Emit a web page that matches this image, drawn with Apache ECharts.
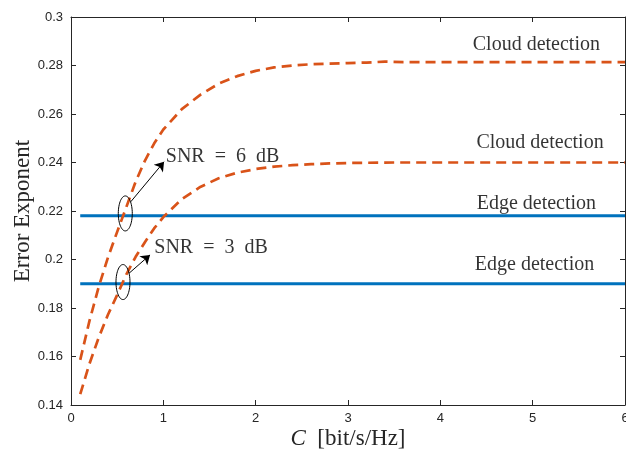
<!DOCTYPE html>
<html>
<head>
<meta charset="utf-8">
<script src="https://cdn.jsdelivr.net/npm/echarts@6/dist/echarts.min.js"></script>
<style>html,body{margin:0;padding:0;background:#fff;}#c{width:626px;height:452px;}</style>
</head>
<body>
<div id="c"></div>
<script>
// ---- data ----
const xCloud6 = [0.1,0.2,0.3,0.4,0.5,0.6,0.7,0.8,0.9,1.0,1.2,1.4,1.6,1.8,2.0,2.2,2.4,2.6,2.8,3.0,3.2,3.4,3.6,4.0,5.0,6.0];
const yCloud6 = [0.1586,0.1747,0.1887,0.2008,0.2114,0.2217,0.2321,0.2407,0.2478,0.2536,0.2620,0.2679,0.2725,0.2756,0.2778,0.2792,0.2800,0.2805,0.2808,0.2810,0.2812,0.2816,0.2814,0.2814,0.2814,0.2814];
const xCloud3 = [0.1,0.2,0.3,0.4,0.5,0.6,0.7,0.8,0.9,1.0,1.2,1.4,1.6,1.8,2.0,2.2,2.4,2.6,2.8,3.0,3.5,4.0,5.0,6.0];
const yCloud3 = [0.1445,0.1570,0.1678,0.1772,0.1854,0.1939,0.2011,0.2071,0.2128,0.2175,0.2249,0.2299,0.2335,0.2358,0.2373,0.2383,0.2389,0.2393,0.2396,0.2398,0.2400,0.2400,0.2400,0.2400];
const xEdge = [0.1, 6.0];
const yEdge6 = [0.218, 0.218];
const yEdge3 = [0.190, 0.190];
const xTicks = [0,1,2,3,4,5,6];
const yTicks = [0.14,0.16,0.18,0.2,0.22,0.24,0.26,0.28,0.3];
const labelTexts = ['Cloud detection','Cloud detection','Edge detection','Edge detection','SNR\u2002=\u20026\u2002dB','SNR\u2002=\u20023\u2002dB'];
const labelX = [5.04, 5.08, 5.04, 5.02, 1.641, 1.517];
const labelY = [0.2885, 0.2480, 0.2228, 0.1978, 0.2423, 0.2050];
const ellipseX = [0.588, 0.563];
const ellipseY = [0.2190, 0.1907];
const arrowStart = [[0.647,0.2238],[0.628,0.1943]];
const arrowEnd = [[1.008,0.2403],[0.856,0.2019]];

const zip = (xs, ys) => xs.map((x,i)=>[x, ys[i]]);
const BLUE = '#0072BD', ORANGE = '#D95319', AX = '#262626';
const SERIF = 'Liberation Serif';

const chart = echarts.init(document.getElementById('c'), null, {renderer:'canvas'});
const tickLbl = {color: AX, fontFamily: 'Liberation Sans', fontSize: 13};
const option = {
  animation: false,
  backgroundColor: '#fff',
  grid: {left: 71, right: 1, top: 17, bottom: 47, containLabel: false, outerBoundsMode: 'none'},
  xAxis: [{
    type: 'value', min: xTicks[0], max: xTicks[xTicks.length-1], interval: 1, position: 'bottom',
    axisLine: {show: true, onZero: false, lineStyle: {color: AX, width: 1}},
    axisTick: {show: true, inside: true, length: 5, lineStyle: {color: AX}},
    axisLabel: Object.assign({margin: 7}, tickLbl),
    splitLine: {show: false},
    name: '{i|C}\u2002[bit/s/Hz]', nameLocation: 'middle', nameGap: 22, nameMoveOverlap: false,
    nameTextStyle: {fontFamily: SERIF, fontSize: 23, color: AX, verticalAlign: 'top', rich: {i: {fontFamily: SERIF, fontStyle: 'italic', fontSize: 23, color: AX}}}
  },{
    type: 'value', min: 0, max: 6, interval: 1, position: 'top',
    axisLine: {show: true, onZero: false, lineStyle: {color: AX, width: 1}},
    axisTick: {show: true, inside: true, length: 5, lineStyle: {color: AX}},
    axisLabel: {show: false}, splitLine: {show: false}
  }],
  yAxis: [{
    type: 'value', min: yTicks[0], max: yTicks[yTicks.length-1], interval: 0.02, position: 'left',
    axisLine: {show: true, onZero: false, lineStyle: {color: AX, width: 1}},
    axisTick: {show: true, inside: true, length: 5, lineStyle: {color: AX}},
    axisLabel: Object.assign({margin: 8, formatter: v => String(+v.toFixed(2))}, tickLbl),
    splitLine: {show: false},
    name: 'Error Exponent', nameLocation: 'middle', nameGap: 37, nameRotate: 90, nameMoveOverlap: false,
    nameTextStyle: {fontFamily: SERIF, fontSize: 23, color: AX}
  },{
    type: 'value', min: 0.14, max: 0.3, interval: 0.02, position: 'right',
    axisLine: {show: true, onZero: false, lineStyle: {color: AX, width: 1}},
    axisTick: {show: true, inside: true, length: 5, lineStyle: {color: AX}},
    axisLabel: {show: false}, splitLine: {show: false}
  }],
  series: [
    {type: 'line', data: zip(xEdge, yEdge6), symbol: 'none', lineStyle: {color: BLUE, width: 3}, z: 2},
    {type: 'line', data: zip(xEdge, yEdge3), symbol: 'none', lineStyle: {color: BLUE, width: 3}, z: 2},
    {type: 'line', data: zip(xCloud6, yCloud6), symbol: 'none', smooth: false,
     lineStyle: {color: ORANGE, width: 2.7, type: [10, 6]}, z: 3},
    {type: 'line', data: zip(xCloud3, yCloud3), symbol: 'none', smooth: false,
     lineStyle: {color: ORANGE, width: 2.7, type: [10, 6]}, z: 3},
    {type: 'custom', data: zip(ellipseX, ellipseY), z: 5,
     renderItem: (params, api) => {
       const c = api.coord([api.value(0), api.value(1)]);
       const pts = [];
       for (let i = 0; i < 60; i++) {
         const t = i / 60 * Math.PI * 2;
         pts.push([c[0] + 7 * Math.cos(t), c[1] + 17.5 * Math.sin(t)]);
       }
       return {type: 'polygon', shape: {points: pts}, style: {fill: 'none', stroke: '#000', lineWidth: 1}};
     }},
    {type: 'lines', coordinateSystem: 'cartesian2d', z: 5,
     symbol: ['none', 'arrow'], symbolSize: 9,
     lineStyle: {color: '#000', width: 1, opacity: 1},
     data: arrowStart.map((s, i) => ({coords: [s, arrowEnd[i]]}))},
    {type: 'scatter', symbolSize: 1, itemStyle: {color: 'rgba(0,0,0,0)'}, z: 6,
     data: labelTexts.map((t, i) => ({name: t, value: [labelX[i], labelY[i]]})),
     label: {show: true, position: 'inside', formatter: p => p.name, fontFamily: SERIF, fontSize: 20, color: '#000'}}
  ]
};
chart.setOption(option);
</script>
</body>
</html>
